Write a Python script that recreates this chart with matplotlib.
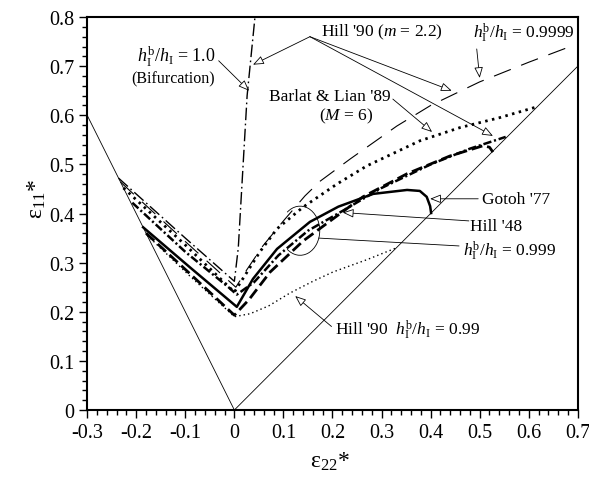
import matplotlib
matplotlib.use("Agg")
import matplotlib.pyplot as plt
from matplotlib.patches import Arc
from matplotlib.ticker import MultipleLocator

plt.rcParams.update({
    "font.family": ["Liberation Serif", "DejaVu Serif"],
    "mathtext.fontset": "custom",
    "mathtext.rm": "Liberation Serif",
    "mathtext.it": "Liberation Serif:italic",
    "mathtext.bf": "Liberation Serif:bold",
    "lines.scale_dashes": False,
})

# Forming limit curves (eps22*, eps11*)
bif_x = [-0.236, -0.10, 0.000, 0.008, 0.026, 0.042]
bif_y = [0.472, 0.350, 0.262, 0.330, 0.640, 0.800]

h9999_x = [-0.232, -0.10, 0.003, 0.025, 0.058, 0.10, 0.144, 0.175, 0.236, 0.331, 0.40, 0.50, 0.60, 0.69]
h9999_y = [0.464, 0.343, 0.250, 0.285, 0.334, 0.385, 0.436, 0.466, 0.511, 0.578, 0.620, 0.668, 0.708, 0.742]

barlat_x = [-0.226, -0.10, 0.000, 0.026, 0.052, 0.087, 0.14, 0.209, 0.27, 0.378, 0.46, 0.54, 0.616]
barlat_y = [0.452, 0.336, 0.240, 0.281, 0.322, 0.369, 0.413, 0.460, 0.497, 0.548, 0.575, 0.595, 0.617]

hill90_999_x = [-0.208, -0.10, -0.012, 0.005, 0.04, 0.09, 0.15, 0.22, 0.30, 0.40, 0.48, 0.553]
hill90_999_y = [0.422, 0.322, 0.250, 0.235, 0.260, 0.315, 0.365, 0.405, 0.452, 0.500, 0.532, 0.556]

gotoh_x = [-0.186, -0.09, 0.005, 0.038, 0.087, 0.154, 0.212, 0.283, 0.352, 0.378, 0.392, 0.399, 0.401]
gotoh_y = [0.372, 0.290, 0.210, 0.267, 0.328, 0.383, 0.414, 0.440, 0.448, 0.446, 0.434, 0.415, 0.401]

hill48_x = [-0.180, -0.09, 0.000, 0.03, 0.073, 0.14, 0.209, 0.262, 0.352, 0.439, 0.507, 0.520, 0.527]
hill48_y = [0.360, 0.277, 0.193, 0.225, 0.281, 0.344, 0.395, 0.434, 0.481, 0.517, 0.538, 0.535, 0.525]

hill90_99_x = [-0.178, -0.09, 0.000, 0.032, 0.07, 0.113, 0.16, 0.201, 0.27, 0.33]
hill90_99_y = [0.356, 0.272, 0.190, 0.196, 0.212, 0.238, 0.262, 0.281, 0.306, 0.330]

# Strain path boundaries
bound_x = [-0.3, 0.0, 0.7]
bound_y = [0.6, 0.0, 0.7]

x_ticks = [-0.3, -0.2, -0.1, 0, 0.1, 0.2, 0.3, 0.4, 0.5, 0.6, 0.7]
x_tick_labels = ["-0.3", "-0.2", "-0.1", "0", "0.1", "0.2", "0.3", "0.4", "0.5", "0.6", "0.7"]
y_ticks = [0, 0.1, 0.2, 0.3, 0.4, 0.5, 0.6, 0.7, 0.8]
y_tick_labels = ["0", "0.1", "0.2", "0.3", "0.4", "0.5", "0.6", "0.7", "0.8"]

fig = plt.figure(figsize=(5.89, 4.81), dpi=100)
ax = fig.add_axes([0.148, 0.1455, 0.833, 0.817])

ax.plot(bound_x, bound_y, color="black", lw=0.6)
ax.plot(bif_x, bif_y, color="black", lw=1.0, dashes=(9, 2.5, 1.2, 2.5))
ax.plot(h9999_x, h9999_y, color="black", lw=0.8, dashes=(13, 8))
ax.plot(barlat_x, barlat_y, color="black", lw=2.0, dashes=(1.8, 3.2))
ax.plot(hill90_999_x, hill90_999_y, color="black", lw=1.8, dashes=(6, 2, 1.5, 2))
ax.plot(gotoh_x, gotoh_y, color="black", lw=1.8)
ax.plot(hill48_x, hill48_y, color="black", lw=2.0, dashes=(8, 3.5))
ax.plot(hill90_99_x, hill90_99_y, color="black", lw=1.0, dashes=(1, 2.2))

# Ellipse marking the h = 0.999 group
ax.add_patch(Arc((0.134, 0.365), 0.08, 0.10, theta1=-125, theta2=125, color="black", lw=0.6))

ax.set_xlim(-0.3, 0.7)
ax.set_ylim(0, 0.8)
ax.set_xticks(x_ticks)
ax.set_xticklabels(x_tick_labels)
ax.set_yticks(y_ticks)
ax.set_yticklabels(y_tick_labels)
ax.xaxis.set_minor_locator(MultipleLocator(0.02))
ax.yaxis.set_minor_locator(MultipleLocator(0.02))
ax.tick_params(which="both", direction="out", top=False, right=False, width=1.0, labelsize=14.5)
ax.tick_params(which="major", length=6, pad=3)
ax.tick_params(which="minor", length=3.5)
for s in ax.spines.values():
    s.set_linewidth(1.5)

ax.set_xlabel("ε$_{22}$*", fontsize=17)
ax.set_ylabel("ε$_{11}$*", fontsize=17)
ax.xaxis.set_label_coords(0.495, -0.1)
ax.yaxis.set_label_coords(-0.08, 0.54)

hb = r"$h_{\mathrm{I}}^{\mathrm{b}}/h_{\mathrm{I}}$"
fs = 12.5
arrow = dict(arrowstyle="-|>,head_length=0.55,head_width=0.22", fc="white", ec="black",
             lw=0.6, shrinkA=0, shrinkB=0, mutation_scale=12)
line = dict(arrowstyle="-", color="black", lw=0.6, shrinkA=0, shrinkB=0)

ax.text(-0.118, 0.722, hb + " = 1.0", fontsize=13, ha="center", va="center")
ax.text(-0.125, 0.676, "(Bifurcation)", fontsize=11.5, ha="center", va="center")
ax.annotate("", xy=(0.030, 0.650), xytext=(-0.032, 0.711), arrowprops=arrow)

ax.text(0.301, 0.770, "Hill '90 ($m$ = 2.2)", fontsize=fs, ha="center", va="center")
ax.annotate("", xy=(0.038, 0.703), xytext=(0.154, 0.760), arrowprops=arrow)
ax.annotate("", xy=(0.443, 0.650), xytext=(0.154, 0.760), arrowprops=arrow)
ax.annotate("", xy=(0.527, 0.558), xytext=(0.154, 0.760), arrowprops=arrow)

ax.text(0.590, 0.770, hb + " = 0.9999", fontsize=fs, ha="center", va="center")
ax.annotate("", xy=(0.500, 0.676), xytext=(0.494, 0.735), arrowprops=arrow)

ax.text(0.195, 0.640, "Barlat & Lian '89", fontsize=fs, ha="center", va="center")
ax.text(0.228, 0.599, "($M$ = 6)", fontsize=fs, ha="center", va="center")
ax.annotate("", xy=(0.403, 0.566), xytext=(0.323, 0.633), arrowprops=arrow)

ax.text(0.505, 0.430, "Gotoh '77", fontsize=fs, ha="left", va="center")
ax.annotate("", xy=(0.399, 0.430), xytext=(0.497, 0.430), arrowprops=arrow)

ax.text(0.480, 0.375, "Hill '48", fontsize=fs, ha="left", va="center")
ax.annotate("", xy=(0.221, 0.402), xytext=(0.478, 0.385), arrowprops=arrow)

ax.text(0.465, 0.325, hb + " = 0.999", fontsize=fs, ha="left", va="center")
ax.annotate("", xy=(0.172, 0.350), xytext=(0.458, 0.334), arrowprops=line)

ax.text(0.205, 0.165, "Hill '90  " + hb + " = 0.99", fontsize=fs, ha="left", va="center")
ax.annotate("", xy=(0.124, 0.232), xytext=(0.198, 0.170), arrowprops=arrow)

fig.savefig("out.png", dpi=100)
